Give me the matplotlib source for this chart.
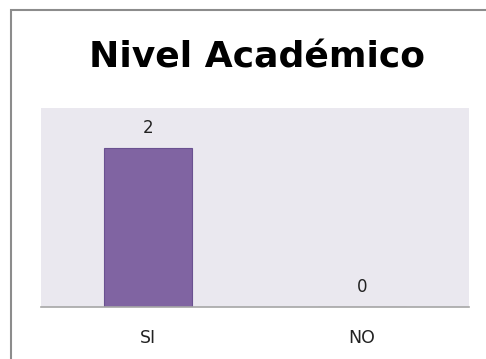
import matplotlib
matplotlib.use("Agg")
import matplotlib.pyplot as plt
from matplotlib.patches import Rectangle

# data
categorias = ["SI", "NO"]
valores = [2, 0]
titulo = "Nivel Académico"

plt.rcParams['font.family'] = ['DejaVu Sans']

fig = plt.figure(figsize=(4.86, 3.59), dpi=100)
W, H = 486.0, 359.0

# outer chart border
fig.patches.append(Rectangle((11 / W, -0.01), 1.0, 1 - 10 / H + 0.01,
                             transform=fig.transFigure, fill=False,
                             edgecolor='#8c8c8c', linewidth=1.5))

ax = fig.add_axes([41 / W, 1 - 307 / H, 428 / W, 199 / H])
ax.set_facecolor('#eae8ef')

x = list(range(len(categorias)))
ax.bar(x, valores, width=0.41, color='#8064a2',
       edgecolor='#6a5190', linewidth=0.8)

# value labels above each bar
for xi, v in zip(x, valores):
    ax.annotate(str(v), xy=(xi, v), xytext=(0, 11), textcoords='offset points',
                ha='center', va='baseline', fontsize=12, color='#222222')

ax.set_xlim(-0.5, 1.5)
ax.set_ylim(0, 2.5)
ax.set_xticks(x)
ax.set_xticklabels(categorias, fontsize=12.5, color='#222222')
ax.tick_params(axis='x', length=0, pad=16)
ax.set_yticks([])
for lado in ['top', 'right', 'left']:
    ax.spines[lado].set_visible(False)
ax.spines['bottom'].set_color('#a6a6a6')
ax.spines['bottom'].set_linewidth(1.2)

fig.text(257 / W, 1 - 68 / H, titulo, ha='center', va='baseline',
         fontsize=26, fontweight='bold', color='black')

fig.savefig('out.png', dpi=100)
